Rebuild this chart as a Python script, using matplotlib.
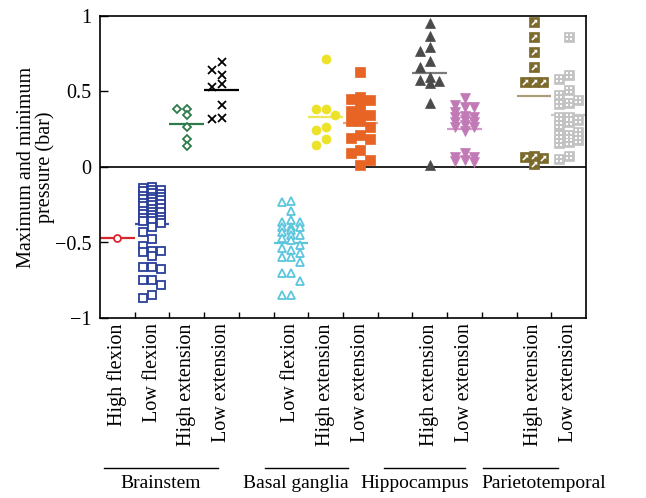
import numpy as np
import matplotlib
matplotlib.use("Agg")
import matplotlib.pyplot as plt
import matplotlib.transforms as mtransforms
from matplotlib.path import Path

plt.rcParams['font.family'] = ['Liberation Serif', 'DejaVu Serif']
plt.rcParams['axes.unicode_minus'] = True

# pressure readings (bar) per region / condition
bs_high_flex = [-0.47]
bs_low_flex = [-0.13, -0.14, -0.15, -0.15, -0.16, -0.17, -0.18, -0.19,
               -0.20, -0.20, -0.21, -0.21, -0.22, -0.23, -0.24, -0.245,
               -0.25, -0.26, -0.27, -0.28, -0.29, -0.30, -0.30, -0.31,
               -0.32, -0.33, -0.34, -0.34, -0.35, -0.36, -0.36, -0.37,
               -0.48, -0.556, -0.66, -0.75, -0.85, -0.43, -0.556, -0.59,
               -0.675, -0.78, -0.87, -0.40, -0.52, -0.56, -0.66, -0.75]
bs_high_ext = [0.384, 0.344, 0.384, 0.265, 0.185, 0.139]
bs_low_ext = [0.695, 0.64, 0.61, 0.53, 0.55, 0.41, 0.325, 0.32]

bg_low_flex = [-0.23, -0.223, -0.29, -0.362, -0.362, -0.35, -0.395, -0.395,
               -0.395, -0.417, -0.428, -0.45, -0.45, -0.468, -0.483, -0.517,
               -0.538, -0.55, -0.594, -0.57, -0.594, -0.627, -0.70, -0.70,
               -0.755, -0.848, -0.848]
bg_high_ext = [0.715, 0.384, 0.384, 0.344, 0.265, 0.245, 0.185, 0.146]
bg_low_ext = [0.63, 0.444, 0.466, 0.42, 0.45, 0.35, 0.307, 0.344, 0.373,
              0.307, 0.267, 0.212, 0.194, 0.185, 0.113, 0.095, 0.046, 0.013]

hc_high_ext = [0.956, 0.868, 0.797, 0.77, 0.70, 0.665, 0.598, 0.576, 0.57,
               0.554, 0.426, 0.013]
hc_low_ext = [0.459, 0.40, 0.40, 0.41, 0.366, 0.338, 0.329, 0.329, 0.311,
              0.30, 0.30, 0.278, 0.267, 0.267, 0.24, 0.068, 0.095, 0.046,
              0.068, 0.035, 0.042]

pt_high_ext = [0.962, 0.863, 0.764, 0.664, 0.565, 0.565, 0.565, 0.057,
               0.075, 0.068, 0.018]
pt_low_ext = [0.863, 0.609, 0.58, 0.51, 0.444, 0.477, 0.42, 0.426, 0.329,
              0.278, 0.333, 0.30, 0.311, 0.212, 0.179, 0.212, 0.157, 0.234,
              0.168, 0.073, 0.053]

cat_labels = ['High flexion', 'Low flexion', 'High extension', 'Low extension',
              '',
              'Low flexion', 'High extension', 'Low extension',
              '',
              'High extension', 'Low extension',
              '',
              'High extension', 'Low extension']
group_names = ['Brainstem', 'Basal ganglia', 'Hippocampus', 'Parietotemporal']

# small white patterns used on top of the patterned squares
_sq = Path.unit_rectangle()
dots_marker = Path.make_compound_path(*[
    _sq.transformed(mtransforms.Affine2D().scale(0.2).translate(x, y))
    for x in (-0.32, 0.12) for y in (-0.32, 0.12)])
arrow_marker = Path([(-0.4, -0.25), (0.05, 0.2), (-0.1, 0.35), (0.35, 0.35),
                     (0.35, -0.1), (0.2, 0.05), (-0.25, -0.4), (-0.4, -0.25)],
                    closed=True)

# (values, slot, marker, size, face, edge, mean-line colour, overlay)
series = [
    (bs_high_flex, 0, 'o', 5, 'white', '#d8262e', '#d8262e', None),
    (bs_low_flex, 1, 's', 6, 'white', '#2b3f98', '#3a4fa8', None),
    (bs_high_ext, 2, 'D', 3.6, 'white', '#2f7a4a', '#2f7a4a', None),
    (bs_low_ext, 3, 'x', 6, 'black', 'black', 'black', None),
    (bg_low_flex, 5, '^', 6, 'white', '#5cc6dd', '#5cc6dd', None),
    (bg_high_ext, 6, 'o', 6.5, '#ece22a', '#ece22a', '#efe65a', None),
    (bg_low_ext, 7, 's', 7.5, '#e86424', '#e86424', '#f0a07a', None),
    (hc_high_ext, 9, '^', 7, '#4a4a4a', '#4a4a4a', '#7a7a7a', None),
    (hc_low_ext, 10, 'v', 7, '#c27ab6', '#c27ab6', '#d49acb', None),
    (pt_high_ext, 12, 's', 7.5, '#7b6a2c', '#7b6a2c', '#aa9e78', arrow_marker),
    (pt_low_ext, 13, 's', 7.5, '#c3c3c3', '#c3c3c3', '#c8c8c8', dots_marker),
]


def swarm_offsets(vals, thr, step=0.27):
    """Spread points sideways into three columns so they overlap less."""
    vals = np.asarray(vals, dtype=float)
    cols = [0, -1, 1]
    placed = {c: [] for c in cols}
    offs = np.zeros(len(vals))
    for i in np.argsort(-vals, kind='stable'):
        v = vals[i]
        best, best_gap = 0, -1.0
        for c in cols:
            gap = min((abs(v - p) for p in placed[c]), default=np.inf)
            if gap >= thr:
                best = c
                break
            if gap > best_gap:
                best, best_gap = c, gap
        placed[best].append(v)
        offs[i] = best * step
    return offs


fig = plt.figure(figsize=(6.46, 4.98), dpi=100)
ax = fig.add_axes([100 / 646, 1 - 318 / 498, 486 / 646, 302 / 498])

for vals, slot, mk, ms, fc, ec, lc, overlay in series:
    vals = np.asarray(vals)
    px = ms / 72 * 100
    xs = slot + 0.5 + swarm_offsets(vals, thr=px / 151.0)
    ax.plot(xs, vals, linestyle='none', marker=mk, markersize=ms,
            markerfacecolor=fc, markeredgecolor=ec,
            markeredgewidth=1.3 if fc == 'white' or mk == 'x' else 0.5,
            zorder=3)
    if overlay is not None:
        ax.plot(xs, vals, linestyle='none', marker=overlay,
                markersize=ms * 0.6, markerfacecolor='white',
                markeredgewidth=0, zorder=4)
    ax.hlines(vals.mean(), slot, slot + 1, colors=lc, linewidth=1.6,
              zorder=2)

ax.axhline(0, color='black', linewidth=1.2, zorder=1)

ax.set_xlim(0, 14)
ax.set_ylim(-1, 1)
ax.set_yticks([-1, -0.5, 0, 0.5, 1])
ax.set_yticklabels(['\u22121', '\u22120.5', '0', '0.5', '1'])
ax.tick_params(axis='y', direction='in', length=6, width=1, labelsize=14.5,
               pad=6)

centers = [i + 0.5 for i, lab in enumerate(cat_labels) if lab]
ax.set_xticks(centers)
ax.set_xticklabels([lab for lab in cat_labels if lab], rotation=90,
                   va='top', ha='center')
ax.tick_params(axis='x', length=0, labelsize=14.5, pad=4)
ax.set_xticks(np.arange(1, 14), minor=True)
ax.tick_params(axis='x', which='minor', direction='in', length=4, width=1)

for sp in ax.spines.values():
    sp.set_linewidth(1.2)

fig.text(36 / 646, 1 - 167 / 498, 'Maximum and minimum\npressure (bar)',
         rotation=90, ha='center', va='center', multialignment='center',
         fontsize=14.5, linespacing=1.0)

# group brackets under the category labels
trans = mtransforms.blended_transform_factory(ax.transData, ax.transAxes)
group_spans = [(0.12, 3.4), (4.75, 7.15), (8.18, 10.5), (11.04, 13.2)]
group_text_x = [1.76, 5.65, 9.08, 12.77]
for name, (x0, x1), tx in zip(group_names, group_spans, group_text_x):
    ax.plot([x0, x1], [-0.497, -0.497], color='black', linewidth=1,
            transform=trans, clip_on=False)
    ax.text(tx, -0.548, name, transform=trans, ha='center', va='center',
            fontsize=14)

fig.savefig('out.png', dpi=100)
